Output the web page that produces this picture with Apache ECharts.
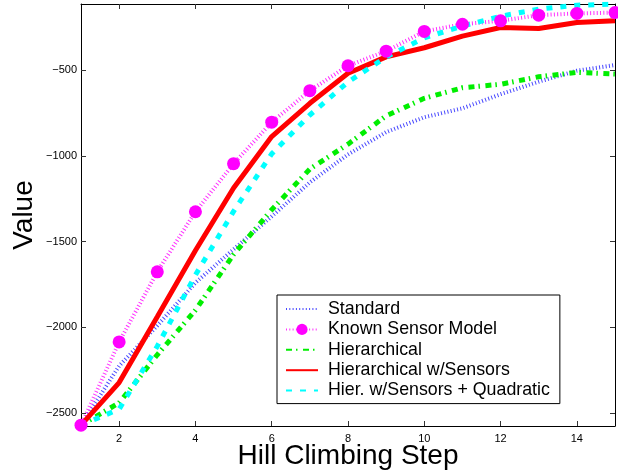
<!DOCTYPE html>
<html>
<head>
<meta charset="utf-8">
<script src="https://cdn.jsdelivr.net/npm/echarts@6/dist/echarts.min.js"></script>
<style>
  html, body { margin: 0; padding: 0; background: #fff; }
  #main { width: 618px; height: 471px; }
</style>
</head>
<body>
<div id="main"></div>
<script>
// hill climbing runs, value per step
var steps = [1, 2, 3, 4, 5, 6, 7, 8, 9, 10, 11, 12, 13, 14, 15];
var standard = [-2570, -2225, -1990, -1740, -1545, -1353, -1155, -992, -862, -775, -723, -641, -568, -504, -471];
var knownSensor = [-2570, -2085, -1676, -1326, -1046, -804, -620, -475, -390, -275, -233, -213, -180, -170, -165];
var hierarchical = [-2570, -2440, -2160, -1900, -1575, -1314, -1077, -932, -767, -665, -603, -583, -539, -514, -523];
var hierSensors = [-2570, -2322, -1938, -1552, -1188, -888, -694, -519, -423, -370, -302, -252, -258, -223, -213];
var hierQuad = [-2570, -2477, -2110, -1695, -1324, -988, -762, -570, -424, -312, -244, -186, -145, -122, -116];
var xTicks = [2, 4, 6, 8, 10, 12, 14];
var yTicks = [-2500, -2000, -1500, -1000, -500];

function pairs(ys) {
    return steps.map(function (s, i) { return [s, ys[i]]; });
}
function minus(v) {
    return String(v).replace('-', '\u2212');
}

var font = 'Liberation Sans';
var myChart = echarts.init(document.getElementById('main'));

var option = {
    animation: false,
    backgroundColor: '#fff',
    textStyle: { fontFamily: font },
    grid: { left: 81, right: 3, top: 4, bottom: 45, containLabel: false, outerBoundsMode: 'none' },
    legend: {
        orient: 'vertical',
        left: 277,
        top: 295,
        padding: [5, 10, 4, 8],
        itemWidth: 32,
        itemHeight: 14,
        itemGap: 2.4,
        borderColor: '#000',
        borderWidth: 1,
        backgroundColor: '#fff',
        textStyle: { fontFamily: font, fontSize: 17.8, lineHeight: 18, color: '#000', padding: [0, 0, 0, 5] },
        data: [
            { name: 'Standard', itemStyle: { opacity: 0 } },
            { name: 'Known Sensor Model' },
            { name: 'Hierarchical', itemStyle: { opacity: 0 } },
            { name: 'Hierarchical w/Sensors', itemStyle: { opacity: 0 } },
            { name: 'Hier. w/Sensors + Quadratic', itemStyle: { opacity: 0 } }
        ]
    },
    xAxis: [{
        type: 'value',
        min: 1,
        max: 15,
        name: 'Hill Climbing Step',
        nameLocation: 'middle',
        nameGap: 16,
        nameMoveOverlap: false,
        nameTextStyle: { fontFamily: font, fontSize: 28, color: '#000' },
        axisLine: { lineStyle: { color: '#000', width: 1 } },
        axisTick: { inside: true, length: 5, customValues: xTicks, lineStyle: { color: '#333' } },
        axisLabel: { customValues: xTicks, margin: 7, fontSize: 11, color: '#000' },
        splitLine: { show: false }
    }, {
        type: 'value',
        position: 'top',
        min: 1,
        max: 15,
        axisLine: { show: true, lineStyle: { color: '#000', width: 1 } },
        axisTick: { inside: true, length: 5, customValues: xTicks, lineStyle: { color: '#333' } },
        axisLabel: { show: false },
        splitLine: { show: false }
    }],
    yAxis: [{
        type: 'value',
        min: -2575,
        max: -115,
        name: 'Value',
        nameLocation: 'middle',
        nameGap: 43,
        nameMoveOverlap: false,
        nameTextStyle: { fontFamily: font, fontSize: 28, color: '#000' },
        axisLine: { show: true, lineStyle: { color: '#000', width: 1 } },
        axisTick: { show: true, inside: true, length: 5, customValues: yTicks, lineStyle: { color: '#333' } },
        axisLabel: { customValues: yTicks, margin: 4, fontSize: 11, color: '#000', formatter: minus },
        splitLine: { show: false }
    }, {
        type: 'value',
        position: 'right',
        min: -2575,
        max: -115,
        axisLine: { show: true, lineStyle: { color: '#000', width: 1 } },
        axisTick: { show: true, inside: true, length: 5, customValues: yTicks, lineStyle: { color: '#333' } },
        axisLabel: { show: false },
        splitLine: { show: false }
    }],
    series: [
        {
            name: 'Standard',
            type: 'line',
            symbol: 'none',
            data: pairs(standard),
            lineStyle: { color: '#4848ff', width: 4, type: [1, 2.3], cap: 'butt' },
            itemStyle: { color: '#4848ff' }
        },
        {
            name: 'Known Sensor Model',
            type: 'line',
            symbol: 'circle',
            symbolSize: 13,
            clip: false,
            data: pairs(knownSensor),
            lineStyle: { color: '#ff30ff', width: 4, type: [1, 2.3], cap: 'butt' },
            itemStyle: { color: '#ff00ff' }
        },
        {
            name: 'Hierarchical',
            type: 'line',
            symbol: 'none',
            data: pairs(hierarchical),
            lineStyle: { color: '#00ee00', width: 5, type: [6, 4, 1.5, 5.5], cap: 'butt' },
            itemStyle: { color: '#00ee00' }
        },
        {
            name: 'Hierarchical w/Sensors',
            type: 'line',
            symbol: 'none',
            data: pairs(hierSensors),
            lineStyle: { color: '#ff0000', width: 5 },
            itemStyle: { color: '#ff0000' }
        },
        {
            name: 'Hier. w/Sensors + Quadratic',
            type: 'line',
            symbol: 'none',
            data: pairs(hierQuad),
            lineStyle: { color: '#00ffff', width: 5, type: [6, 8], cap: 'butt' },
            itemStyle: { color: '#00ffff' }
        }
    ]
};
myChart.setOption(option);
</script>
</body>
</html>
